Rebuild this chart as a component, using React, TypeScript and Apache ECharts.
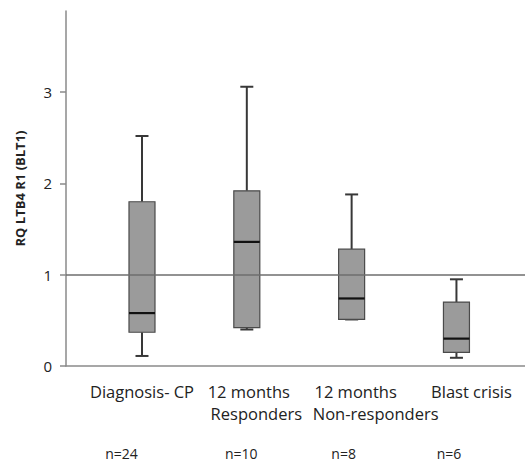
import React, { useEffect, useRef } from "react";
import * as echarts from "echarts";

// ---- data ----
const categories = ["Diagnosis- CP", "12 months\nResponders", "12 months\nNon-responders", "Blast crisis"];
const positions = [1, 2, 3, 4];
const whiskerLow = [0.11, 0.4, 0.51, 0.09];
const q1 = [0.37, 0.42, 0.51, 0.15];
const medians = [0.58, 1.36, 0.74, 0.3];
const q3 = [1.8, 1.92, 1.28, 0.7];
const whiskerHigh = [2.52, 3.06, 1.88, 0.95];
const nLabels = ["n=24", "n=10", "n=8", "n=6"];
const yTicks = [0, 1, 2, 3];
const referenceLevel = 1;
const yAxisTitle = "RQ LTB4 R1 (BLT1)";

const FONT = "Open Sans";
const AXIS_COLOR = "#8a8a8a";

// per-line horizontal nudges (rich text padding) to mimic the hand-placed labels
const catRich: Record<string, any> = {
  c0l0: { padding: [0, 0, 0, 0] },
  c1l0: { padding: [0, 0, 0, 4] },
  c1l1: { padding: [0, 0, 0, 19] },
  c2l0: { padding: [0, 0, 0, 8] },
  c2l1: { padding: [0, 0, 0, 48] },
  c3l0: { padding: [0, 0, 0, 30] },
};
Object.keys(catRich).forEach((k) => {
  catRich[k] = { ...catRich[k], fontFamily: FONT, fontSize: 16.5, lineHeight: 22, color: "#222" };
});
const nRich: Record<string, any> = {
  n0: { padding: [0, 41, 0, 0] },
  n1: { padding: [0, 11, 0, 0] },
  n2: { padding: [0, 16, 0, 0] },
  n3: { padding: [0, 15, 0, 0] },
};
Object.keys(nRich).forEach((k) => {
  nRich[k] = { ...nRich[k], fontFamily: FONT, fontSize: 14, lineHeight: 14, color: "#222" };
});

const X_MIN = 0.275;
const X_MAX = 4.654;

export default function App() {
  const ref = useRef<HTMLDivElement>(null);
  useEffect(() => {
    if (!ref.current) return;
    const chart = echarts.init(ref.current, undefined, { renderer: "svg" });
    const data = positions.map((p, i) => [p, whiskerLow[i], q1[i], medians[i], q3[i], whiskerHigh[i]]);

    // one label axis per category so that ECharts never hides a neighbouring label
    const categoryAxes = categories.map((cat, i) => ({
      type: "value",
      min: X_MIN,
      max: X_MAX,
      position: "bottom",
      axisLine: { show: i === 0, onZero: false, lineStyle: { color: AXIS_COLOR, width: 1.5 } },
      axisTick: { show: false },
      splitLine: { show: false },
      axisLabel: {
        customValues: [positions[i]],
        hideOverlap: false,
        margin: 14,
        fontFamily: FONT,
        fontSize: 16.5,
        color: "#222",
        lineHeight: 22,
        rich: catRich,
        formatter: () =>
          cat
            .split("\n")
            .map((line, l) => `{c${i}l${l}|${line}}`)
            .join("\n"),
      },
    }));

    chart.setOption({
      animation: false,
      backgroundColor: "#ffffff",
      grid: { left: 66, right: 0, top: 11, bottom: 100 },
      xAxis: [
        ...categoryAxes,
        {
          type: "value",
          min: X_MIN,
          max: X_MAX,
          position: "bottom",
          offset: 80,
          axisLine: { show: false },
          axisTick: { show: false },
          splitLine: { show: false },
          axisLabel: {
            customValues: positions,
            hideOverlap: false,
            margin: 0,
            fontFamily: FONT,
            fontSize: 14,
            lineHeight: 14,
            color: "#222",
            rich: nRich,
            formatter: (v: number) => {
              const i = positions.indexOf(v);
              if (i < 0) return "";
              return `{n${i}|${nLabels[i]}}`;
            },
          },
        },
      ],
      yAxis: {
        type: "value",
        min: 0,
        max: 3.89,
        interval: 1,
        name: yAxisTitle,
        nameLocation: "middle",
        nameGap: 40,
        nameTextStyle: { fontFamily: FONT, fontSize: 13, fontWeight: "bold", color: "#222" },
        axisLine: { show: true, lineStyle: { color: AXIS_COLOR, width: 1.5 } },
        axisTick: { show: true, length: 6, customValues: yTicks, lineStyle: { color: AXIS_COLOR, width: 1.5 } },
        splitLine: { show: false },
        axisLabel: { customValues: yTicks, margin: 14, fontFamily: FONT, fontSize: 15, color: "#222" },
      },
      series: [
        {
          type: "custom",
          xAxisIndex: 0,
          yAxisIndex: 0,
          encode: { x: 0, y: [1, 2, 3, 4, 5] },
          data,
          renderItem: (params: any, api: any) => {
            const x = api.value(0);
            const pLow = api.coord([x, api.value(1)]);
            const pQ1 = api.coord([x, api.value(2)]);
            const pMed = api.coord([x, api.value(3)]);
            const pQ3 = api.coord([x, api.value(4)]);
            const pHigh = api.coord([x, api.value(5)]);
            const cx = pMed[0];
            const bw = 26;
            const cw = 13;
            const wStyle = { stroke: "#383838", lineWidth: 2 };
            return {
              type: "group",
              children: [
                { type: "line", shape: { x1: cx, y1: pHigh[1], x2: cx, y2: pQ3[1] }, style: wStyle },
                { type: "line", shape: { x1: cx, y1: pQ1[1], x2: cx, y2: pLow[1] }, style: wStyle },
                { type: "line", shape: { x1: cx - cw / 2, y1: pHigh[1], x2: cx + cw / 2, y2: pHigh[1] }, style: wStyle },
                { type: "line", shape: { x1: cx - cw / 2, y1: pLow[1], x2: cx + cw / 2, y2: pLow[1] }, style: wStyle },
                {
                  type: "rect",
                  shape: { x: cx - bw / 2, y: pQ3[1], width: bw, height: pQ1[1] - pQ3[1] },
                  style: { fill: "#9b9b9b", stroke: "#4a4a4a", lineWidth: 1.2 },
                },
                {
                  type: "line",
                  shape: { x1: cx - bw / 2, y1: pMed[1], x2: cx + bw / 2, y2: pMed[1] },
                  style: { stroke: "#111111", lineWidth: 2.2 },
                },
              ],
            };
          },
          markLine: {
            silent: true,
            symbol: ["none", "none"],
            label: { show: false },
            lineStyle: { color: "#6e6e6e", width: 1.6, type: "solid" },
            data: [{ yAxis: referenceLevel }],
            z: 10,
          },
          z: 2,
        },
      ],
    });
    return () => chart.dispose();
  }, []);
  return (
    <div
      ref={ref}
      style={{ position: "fixed", left: 0, top: 0, width: 525, height: 466, background: "#fff" }}
    />
  );
}
